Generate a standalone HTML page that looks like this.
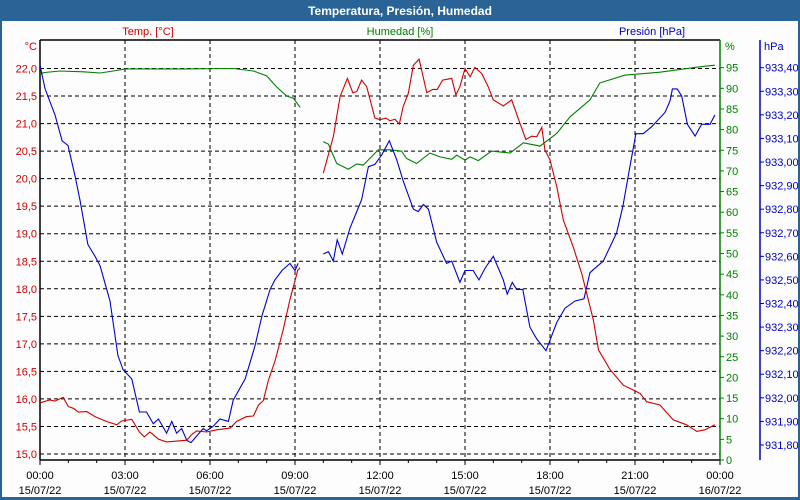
<!DOCTYPE html>
<html><head><meta charset="utf-8"><style>
html,body{margin:0;padding:0;background:#fff}
svg{display:block;font-family:"Liberation Sans",sans-serif}
</style></head><body>
<svg id="chart" width="800" height="500">
<rect x="0" y="0" width="800" height="500" fill="#2a6496"/>
<rect x="2" y="21" width="796" height="476" fill="#fcfdfc"/>
<text x="400" y="15" text-anchor="middle" fill="#fff" font-weight="bold" font-size="12">Temperatura, Presión, Humedad</text>
<text x="148" y="35" text-anchor="middle" fill="#d00000" font-size="11">Temp. [°C]</text>
<text x="400" y="35" text-anchor="middle" fill="#008000" font-size="11">Humedad [%]</text>
<text x="652" y="35" text-anchor="middle" fill="#0000c0" font-size="11">Presión [hPa]</text>
<text x="37" y="50" text-anchor="end" fill="#d00000" font-size="11">°C</text>
<text x="725" y="50" fill="#008000" font-size="11">%</text>
<text x="764" y="50" fill="#0000c0" font-size="11">hPa</text>
<g id="grid"></g><g id="axes"></g><g id="series"></g>
</svg>
<script>
const tempT=[0,0.35,0.53,0.82,1.0,1.18,1.35,1.65,1.94,2.35,2.71,2.88,3.24,3.51,3.68,3.88,4.18,4.47,4.94,5.18,5.35,5.53,5.88,6.24,6.71,6.94,7.29,7.53,7.71,7.88,8.06,8.3,8.58,8.82,9.1,9.18,null,10.0,10.35,10.59,10.85,11.04,11.18,11.35,11.53,11.82,12.0,12.21,12.35,12.53,12.68,12.82,13.0,13.18,13.38,13.65,13.86,14.02,14.21,14.53,14.68,14.82,15.0,15.18,15.35,15.59,15.82,16.0,16.35,16.65,16.94,17.15,17.35,17.53,17.71,17.82,18.0,18.24,18.47,18.82,19.12,19.35,19.53,19.71,20.12,20.59,21.18,21.41,21.88,22.35,22.82,23.18,23.47,23.82];
const tempV=[15.93,15.98,15.96,16.03,15.86,15.83,15.76,15.77,15.68,15.59,15.53,15.60,15.63,15.40,15.31,15.40,15.27,15.22,15.24,15.25,15.35,15.42,15.40,15.44,15.47,15.59,15.68,15.69,15.89,15.97,16.34,16.7,17.25,17.8,18.34,18.38,null,20.10,20.76,21.49,21.82,21.56,21.58,21.79,21.67,21.10,21.07,21.1,21.05,21.08,20.99,21.31,21.55,22.06,22.17,21.56,21.62,21.62,21.79,21.82,21.52,21.67,22.0,21.85,22.02,21.91,21.67,21.43,21.32,21.43,21.0,20.71,20.77,20.76,20.93,20.52,20.34,19.85,19.25,18.76,18.28,17.80,17.43,16.89,16.53,16.25,16.10,15.95,15.89,15.62,15.53,15.41,15.44,15.53];
const humT=[0,0.12,0.71,1.53,2.12,2.58,3.0,3.88,5.06,6.82,7.53,8.0,8.34,8.71,8.94,9.18,null,10.0,10.18,10.47,10.88,11.18,11.41,11.94,12.35,12.76,12.94,13.29,13.76,14.12,14.53,14.71,15.0,15.18,15.47,15.94,16.59,17.06,17.65,18.24,18.71,19.41,19.76,20.65,21.88,23.29,23.82];
const humV=[93.2,93.8,94.2,94.0,93.7,94.2,94.7,94.7,94.7,94.8,94.2,93.0,90.4,88.1,87.6,85.4,null,77.1,76.5,71.8,70.4,71.7,71.4,75.1,75.1,74.8,73.0,71.8,74.3,73.4,72.8,73.8,72.6,73.4,72.5,74.8,74.3,76.8,76.0,79.1,83.1,87.2,91.3,93.2,93.9,95.2,95.6];
const presT=[0,0.18,0.53,0.78,0.99,1.24,1.41,1.69,1.94,2.12,2.47,2.75,2.93,3.24,3.51,3.76,4.0,4.18,4.47,4.65,4.82,5.0,5.18,5.33,5.76,5.88,6.12,6.35,6.65,6.82,7.24,7.59,7.84,8.12,8.29,8.54,8.82,9.0,9.11,null,10.0,10.18,10.35,10.49,10.67,10.94,11.18,11.35,11.59,11.82,12.06,12.33,12.59,12.82,13.18,13.35,13.53,13.71,14.0,14.35,14.53,14.82,15.0,15.29,15.49,15.71,16.0,16.35,16.49,16.67,16.82,17.04,17.29,17.53,17.86,18.24,18.53,18.88,19.2,19.41,19.59,19.88,20.35,20.57,20.82,21.03,21.29,21.59,22.06,22.24,22.32,22.49,22.65,22.85,23.12,23.35,23.65,23.82];
const presV=[933.41,933.31,933.20,933.09,933.07,932.94,932.84,932.65,932.60,932.56,932.41,932.18,932.12,932.08,931.94,931.94,931.89,931.91,931.85,931.90,931.85,931.87,931.82,931.81,931.87,931.86,931.88,931.91,931.90,931.99,932.08,932.22,932.35,932.46,932.50,932.54,932.57,932.54,932.57,null,932.61,932.62,932.58,932.67,932.61,932.72,932.79,932.84,932.98,932.99,933.03,933.09,933.01,932.92,932.80,932.79,932.82,932.80,932.66,932.57,932.58,932.49,932.54,932.54,932.50,932.55,932.60,932.50,932.44,932.49,932.46,932.46,932.30,932.25,932.20,932.32,932.38,932.41,932.42,932.53,932.55,932.58,932.70,932.81,932.98,933.12,933.12,933.15,933.21,933.26,933.31,933.31,933.28,933.16,933.11,933.16,933.16,933.20];
const timeLabels=["00:00","03:00","06:00","09:00","12:00","15:00","18:00","21:00","00:00"];
const dateLabels=["15/07/22","15/07/22","15/07/22","15/07/22","15/07/22","15/07/22","15/07/22","15/07/22","16/07/22"];
const tempTicks=["15,0","15,5","16,0","16,5","17,0","17,5","18,0","18,5","19,0","19,5","20,0","20,5","21,0","21,5","22,0"];
const humTicks=[0,5,10,15,20,25,30,35,40,45,50,55,60,65,70,75,80,85,90,95];
const presTicks=["931,80","931,90","932,00","932,10","932,20","932,30","932,40","932,50","932,60","932,70","932,80","932,90","933,00","933,10","933,20","933,30","933,40"];

const X0=40,X1=720,TOP=40,BOT=460;
const xS=h=>X0+h*(X1-X0)/24;
const yT=t=>454-(t-15)*55.07;
const yH=h=>460-h*4.13;
const yP=p=>67.7+(933.4-p)*235.8;
const NS="http://www.w3.org/2000/svg";
function mk(tag,attrs,parent){const e=document.createElementNS(NS,tag);for(const k in attrs)e.setAttribute(k,attrs[k]);parent.appendChild(e);return e;}
const grid=document.getElementById('grid'),axes=document.getElementById('axes'),series=document.getElementById('series');
// horizontal grid & temp labels
tempTicks.forEach((lab,i)=>{const v=15+i*0.5,y=yT(v);
 const l=mk('line',{x1:X0,x2:X1,y1:y,y2:y,stroke:'#000','stroke-dasharray':'4,3','stroke-width':1},grid);
 
 
 const t=mk('text',{x:37,y:y+4,'text-anchor':'end',fill:'#d00000','font-size':11},axes);t.textContent=lab;
 
 
});
// vertical grid & time labels
timeLabels.forEach((lab,i)=>{const x=xS(i*3);
 if(i>0&&i<8){const l=mk('line',{x1:x,x2:x,y1:TOP,y2:BOT,stroke:'#000','stroke-dasharray':'4,3','stroke-width':1},grid);
 
 }
 const t=mk('text',{x:x,y:479,'text-anchor':'middle',fill:'#000','font-size':11},axes);t.textContent=lab;
 
 
 const d=mk('text',{x:x,y:494,'text-anchor':'middle',fill:'#000','font-size':11},axes);d.textContent=dateLabels[i];
 
 
});
for(let h=0;h<=24;h++){const x=xS(h);const tk=mk('line',{x1:x,x2:x,y1:BOT,y2:BOT+(h%3==0?5:3),stroke:'#000'},axes);
 
 }
// axis lines
const ax=[[X0,TOP,X0,BOT,'#000','temp-axis-line'],[X0,TOP,X1,TOP,'#000','top-border'],[X0,BOT,X1,BOT,'#000','x-axis-line'],[X1,TOP,X1,BOT,'#008000','humidity-axis-line'],[760,TOP,760,BOT,'#0000c0','pressure-axis-line']];
ax.forEach(a=>{const l=mk('line',{x1:a[0],y1:a[1],x2:a[2],y2:a[3],stroke:a[4],'stroke-width':1.5},axes);
 
 });
humTicks.forEach(v=>{const y=yH(v);
 mk('line',{x1:X1,x2:X1+4,y1:y,y2:y,stroke:'#008000'},axes);
 const t=mk('text',{x:X1+6,y:y+4,fill:'#008000','font-size':11},axes);t.textContent=v;
 
 });
presTicks.forEach((lab,i)=>{const y=yP(931.8+i*0.1);
 mk('line',{x1:760,x2:764,y1:y,y2:y,stroke:'#0000c0'},axes);
 const t=mk('text',{x:765,y:y+4,fill:'#0000c0','font-size':11},axes);t.textContent=lab;
 
 });
function path(T,V,yf,color,name){let d='',pen=false;
 for(let i=0;i<T.length;i++){if(T[i]===null||V[i]===null){pen=false;continue;}
  d+=(pen?'L':'M')+xS(T[i]).toFixed(1)+','+yf(V[i]).toFixed(1);pen=true;}
 const p=mk('path',{d:d,fill:'none',stroke:color,'stroke-width':1.1},series);
 
 }
path(humT,humV,yH,'#008000','humidity-line');
path(presT,presV,yP,'#0000d0','pressure-line');
path(tempT,tempV,yT,'#d00000','temperature-line');
</script>
</body></html>
